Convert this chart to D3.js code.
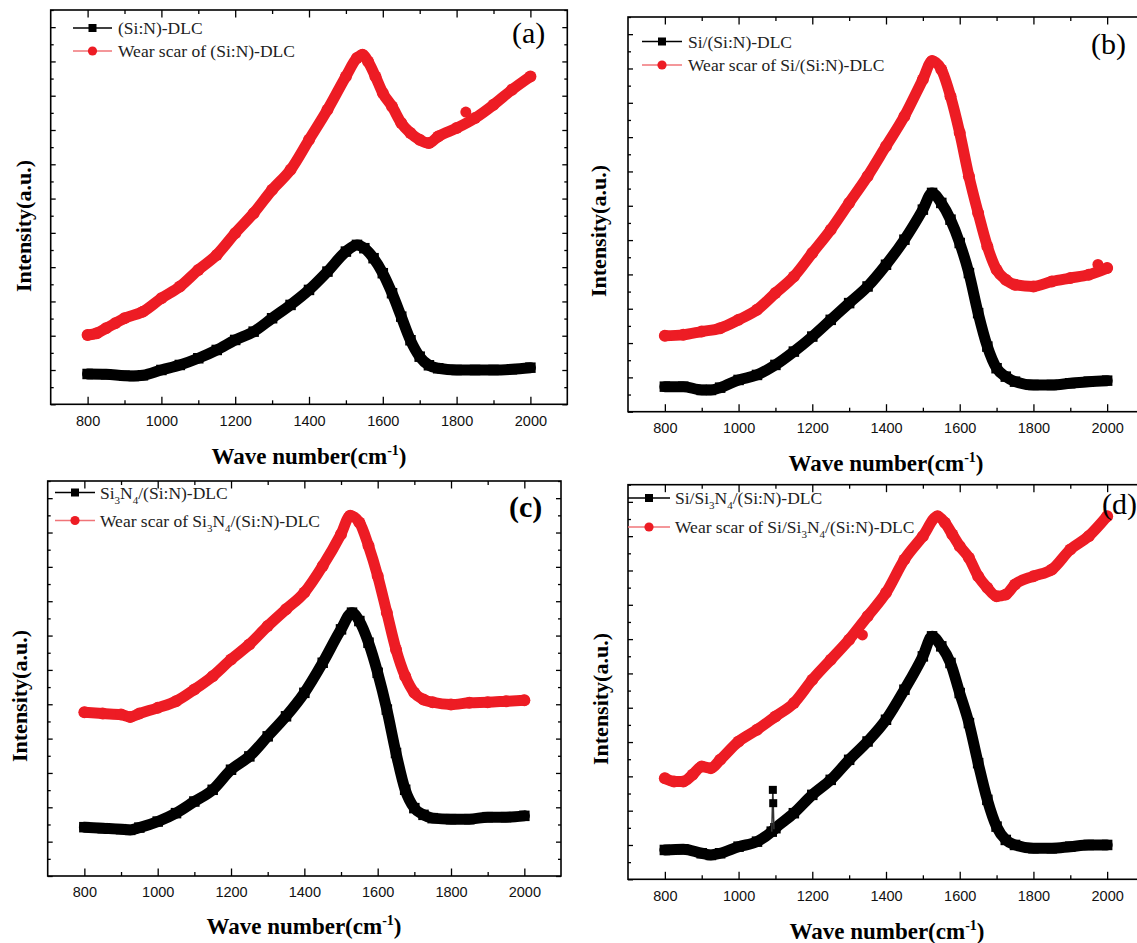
<!DOCTYPE html>
<html><head><meta charset="utf-8">
<script src="https://cdn.jsdelivr.net/npm/d3@7"></script>
<style>body{margin:0;background:#fff}svg{display:block}</style>
</head><body>
<svg id="c" width="1137" height="943"></svg>
<script>
// ---------- data (intensity in arbitrary units) ----------
const xMajor = [800, 1000, 1200, 1400, 1600, 1800, 2000];
const xMinor = [900, 1100, 1300, 1500, 1700, 1900];

const aBlack = [[800,30.3],[850,30],[900,28.6],[925,28.3],[950,29],[1000,34.3],[1050,39.3],[1100,46],[1150,54.3],[1200,64.3],[1250,72.6],[1300,86],[1350,99.3],[1400,114.3],[1450,132.6],[1500,152.6],[1530,159.3],[1550,156],[1575,146],[1600,131],[1625,111],[1650,87.6],[1675,64],[1700,47.6],[1725,39],[1750,36],[1800,34.3],[1850,34.3],[1900,34.3],[1950,35],[2000,36.6]];
const aRed = [[800,69.3],[825,71],[850,76],[875,81],[900,86],[950,92.6],[1000,106],[1050,117.6],[1100,134.3],[1150,149.3],[1200,171],[1250,191],[1300,214.3],[1350,234.3],[1400,264.3],[1450,294.3],[1500,327.6],[1530,346],[1545,349.3],[1560,342.6],[1580,327.6],[1600,311],[1625,297.6],[1650,281],[1675,271],[1700,264.3],[1725,261],[1750,267.6],[1800,276],[1850,286],[1900,299.3],[1950,314.3],[2000,327.6]];
const aRedOut = [[1825,292]];

const bBlack = [[800,25],[850,25],[900,21.7],[925,21.7],[950,24],[1000,31.7],[1050,36.7],[1100,46.7],[1150,60],[1200,75],[1250,91.7],[1300,108.4],[1350,125],[1400,146.7],[1450,171.7],[1500,201.7],[1525,218.4],[1550,208.4],[1575,191.7],[1600,168.4],[1625,138.4],[1650,98.4],[1675,65],[1700,43.4],[1725,35],[1750,30],[1800,26.7],[1850,26.7],[1900,28.4],[1950,30],[2000,31]];
const bRed = [[800,75.7],[850,76.7],[900,80],[950,83.4],[1000,91.7],[1050,101.7],[1100,118.4],[1150,135],[1200,158.4],[1250,181.7],[1300,208.4],[1350,235],[1400,265],[1450,295],[1500,331.7],[1525,350],[1550,341.7],[1575,315],[1600,278.4],[1625,235],[1650,198.4],[1675,165],[1700,141.7],[1725,131.7],[1750,126.7],[1800,125],[1850,130],[1900,133.4],[1950,136.7],[2000,143.4]];
const bRedOut = [[1975,147]];

const cBlack = [[800,48.7],[850,47.7],[900,46.7],[925,46],[950,48.3],[1000,54.3],[1050,62.7],[1100,74.3],[1150,86],[1200,106],[1250,119.3],[1300,139.3],[1350,159.3],[1400,182.7],[1450,212.7],[1500,246],[1530,262.7],[1550,254.3],[1575,232.7],[1600,202.7],[1625,166],[1650,122.7],[1675,86],[1700,67.7],[1725,61],[1750,57.7],[1800,56.7],[1850,56.7],[1900,58.7],[1950,58.7],[2000,60]];
const cRed = [[800,163.3],[850,162],[900,161],[925,158.7],[950,162],[1000,167.7],[1050,174.3],[1100,186],[1150,199.3],[1200,216],[1250,231],[1300,249.3],[1350,266],[1400,282.7],[1450,309.3],[1500,341],[1525,359.3],[1550,352.7],[1575,329.3],[1600,299.3],[1625,262.7],[1650,226],[1675,199.3],[1700,182.7],[1725,176],[1750,173.3],[1800,171],[1850,172.7],[1900,173.3],[1950,174.3],[2000,175.3]];

const dBlack = [[800,29.3],[850,30],[900,26],[925,24.3],[950,26],[1000,32.6],[1050,37.6],[1090,47.6],[1100,51],[1150,66],[1200,84.3],[1250,99.3],[1300,119.3],[1350,137.6],[1400,159.3],[1450,189.3],[1500,222.6],[1525,242.6],[1550,232.6],[1575,216],[1600,186],[1625,156],[1650,116],[1675,79.3],[1700,52.6],[1725,39.3],[1750,34.3],[1800,31],[1850,31],[1900,32.6],[1950,34.3],[2000,34.3]];
const dBlackSpike = [[1090,47.6],[1093,89.3],[1094,76],[1096,50]];
const dRed = [[800,101],[825,97.6],[850,97.6],[875,104.3],[900,112.6],[925,111],[950,119.3],[1000,137.6],[1050,149.3],[1100,162.6],[1150,176],[1200,199.3],[1250,219.3],[1300,239.3],[1350,262.6],[1400,286],[1450,319.3],[1500,342.6],[1540,362.6],[1560,356],[1580,344.3],[1600,332.6],[1625,321],[1650,302.6],[1675,291],[1700,282.6],[1725,284.3],[1750,294.3],[1800,302.6],[1850,309.3],[1900,329.3],[1950,342.6],[2000,362.6]];
const dRedOut = [[1336,244]];

const labA = [[["(Si:N)-DLC",0]], [["Wear scar of (Si:N)-DLC",0]]];
const labB = [[["Si/(Si:N)-DLC",0]], [["Wear scar of Si/(Si:N)-DLC",0]]];
const labC = [[["Si",0],["3",1],["N",0],["4",1],["/(Si:N)-DLC",0]], [["Wear scar of Si",0],["3",1],["N",0],["4",1],["/(Si:N)-DLC",0]]];
const labD = [[["Si/Si",0],["3",1],["N",0],["4",1],["/(Si:N)-DLC",0]], [["Wear scar of Si/Si",0],["3",1],["N",0],["4",1],["/(Si:N)-DLC",0]]];

// ---------- layout ----------
const RED = "#ed1c24";
const panels = [
  {tag:"(a)", tagBold:false, box:[50.7,567.3,10,404.3], black:aBlack, red:aRed, redOut:aRedOut, spike:null, lab:labA,
   leg:{x0:73, x1:112, tx:118, y1:28, y2:51}, tagPos:[512,43], yT:[24,226], xT:[309,464]},
  {tag:"(b)", tagBold:false, box:[628,1144,17,411.7], black:bBlack, red:bRed, redOut:bRedOut, spike:null, lab:labB,
   leg:{x0:642, x1:682, tx:688, y1:41.5, y2:65}, tagPos:[1091,54], yT:[599,231], xT:[886,471]},
  {tag:"(c)", tagBold:true, box:[47.7,561,481,876], black:cBlack, red:cRed, redOut:null, spike:null, lab:labC,
   leg:{x0:55, x1:95, tx:100, y1:492.5, y2:520.5}, tagPos:[509,517], yT:[20,696], xT:[304,934]},
  {tag:"(d)", tagBold:false, box:[628,1144,484.7,879.3], black:dBlack, red:dRed, redOut:dRedOut, spike:dBlackSpike, lab:labD,
   leg:{x0:628, x1:670, tx:675, y1:498, y2:527}, tagPos:[1102,514], yT:[601,699], xT:[887,939]}
];

const svg = d3.select("#c");
const serif = "'Liberation Serif','Times New Roman',serif";
const sans = "'Liberation Sans',Arial,sans-serif";

panels.forEach(p => {
  const [L, R, T, B] = p.box;
  const x = d3.scaleLinear().domain([700, 2100]).range([L, R]);
  const y = d3.scaleLinear().domain([0, 394]).range([B, T]);
  const g = svg.append("g");

  // y ticks (unlabelled)
  const yt = d3.range(0, 24).map(i => i * 394 / 23);
  const yMaj = yt.filter((d, i) => i % 2 === 0), yMin = yt.filter((d, i) => i % 2 === 1);
  const addAxis = (axis, tr) => {
    const a = g.append("g").attr("transform", tr).call(axis);
    a.select(".domain").remove();
    a.selectAll("line").attr("stroke", "#000").attr("stroke-width", 1.3);
    return a;
  };
  addAxis(d3.axisLeft(y).tickValues(yMaj).tickSize(-5).tickFormat(""), `translate(${L},0)`);
  addAxis(d3.axisLeft(y).tickValues(yMin).tickSize(-3).tickFormat(""), `translate(${L},0)`);
  addAxis(d3.axisRight(y).tickValues(yMaj).tickSize(-5).tickFormat(""), `translate(${R},0)`);
  addAxis(d3.axisRight(y).tickValues(yMin).tickSize(-3).tickFormat(""), `translate(${R},0)`);

  const xb = addAxis(d3.axisBottom(x).tickValues(xMajor).tickSize(-7.5).tickPadding(11).tickFormat(d3.format("d")), `translate(0,${B})`);
  xb.selectAll("text").attr("font-family", sans).attr("font-size", 14.5).attr("fill", "#111");
  addAxis(d3.axisBottom(x).tickValues(xMinor).tickSize(-4).tickFormat(""), `translate(0,${B})`);
  addAxis(d3.axisTop(x).tickValues(xMajor).tickSize(-7.5).tickFormat(""), `translate(0,${T})`);
  addAxis(d3.axisTop(x).tickValues(xMinor).tickSize(-4).tickFormat(""), `translate(0,${T})`);

  // frame
  g.append("rect").attr("x", L).attr("y", T).attr("width", R - L).attr("height", B - T)
    .attr("fill", "none").attr("stroke", "#000").attr("stroke-width", 1.6);

  const line = d3.line().x(d => x(d[0])).y(d => y(d[1])).curve(d3.curveMonotoneX);
  const straight = d3.line().x(d => x(d[0])).y(d => y(d[1]));

  // series: dense-marker band = thick path + markers
  const drawSeries = (data, color, shape) => {
    g.append("path").datum(data).attr("d", line).attr("fill", "none")
      .attr("stroke", color).attr("stroke-width", 11)
      .attr("stroke-linejoin", "round").attr("stroke-linecap", "round");
    if (shape === "sq") {
      g.append("g").selectAll("rect").data(data).join("rect")
        .attr("x", d => x(d[0]) - 5.25).attr("y", d => y(d[1]) - 5.25)
        .attr("width", 10.5).attr("height", 10.5).attr("fill", color);
    } else {
      g.append("g").selectAll("circle").data(data).join("circle")
        .attr("cx", d => x(d[0])).attr("cy", d => y(d[1])).attr("r", 6).attr("fill", color);
    }
  };
  drawSeries(p.red, RED, "ci");
  if (p.redOut) {
    g.append("g").selectAll("circle").data(p.redOut).join("circle")
      .attr("cx", d => x(d[0])).attr("cy", d => y(d[1])).attr("r", 5.5).attr("fill", RED);
  }
  drawSeries(p.black, "#000", "sq");
  if (p.spike) {
    g.append("path").datum(p.spike).attr("d", straight).attr("fill", "none")
      .attr("stroke", "#333").attr("stroke-width", 1.5);
    g.append("g").selectAll("rect").data(p.spike.slice(1, 3)).join("rect")
      .attr("x", d => x(d[0]) - 4).attr("y", d => y(d[1]) - 4)
      .attr("width", 8).attr("height", 8).attr("fill", "#000");
  }

  // legend
  const lg = p.leg;
  const cx = (lg.x0 + lg.x1) / 2;
  const rows = [
    {y: lg.y1, col: "#000", lcol: "#000", shape: "sq", lab: p.lab[0]},
    {y: lg.y2, col: RED, lcol: "#f07478", shape: "ci", lab: p.lab[1]}
  ];
  rows.forEach(r => {
    g.append("line").attr("x1", lg.x0).attr("x2", lg.x1).attr("y1", r.y).attr("y2", r.y)
      .attr("stroke", r.lcol).attr("stroke-width", 1.3);
    if (r.shape === "sq") {
      g.append("rect").attr("x", cx - 4).attr("y", r.y - 4).attr("width", 8).attr("height", 8).attr("fill", r.col);
    } else {
      g.append("circle").attr("cx", cx).attr("cy", r.y).attr("r", 4.6).attr("fill", r.col);
    }
    const t = g.append("text").attr("x", lg.tx).attr("y", r.y + 6)
      .attr("font-family", serif).attr("font-size", 17.5).attr("fill", "#222");
    r.lab.forEach(([s, sub], i) => {
      const prevSub = i > 0 ? r.lab[i - 1][1] : 0;
      let dy = 0;
      if (sub && !prevSub) dy = 5;
      if (!sub && prevSub) dy = -5;
      t.append("tspan").attr("dy", dy).attr("font-size", sub ? 11 : 17.5).text(s);
    });
  });

  // panel tag
  svg.append("text").attr("x", p.tagPos[0]).attr("y", p.tagPos[1])
    .attr("font-family", serif).attr("font-size", 30).attr("font-weight", p.tagBold ? "bold" : "normal")
    .attr("fill", "#000").text(p.tag);

  // axis titles
  svg.append("text").attr("transform", `translate(${p.yT[0] + 7},${p.yT[1]}) rotate(-90)`)
    .attr("text-anchor", "middle").attr("font-family", serif).attr("font-weight", "bold")
    .attr("font-size", 22).attr("fill", "#000").text("Intensity(a.u.)");
  const xt = svg.append("text").attr("x", p.xT[0]).attr("y", p.xT[1]).attr("text-anchor", "middle")
    .attr("font-family", serif).attr("font-weight", "bold").attr("font-size", 23).attr("fill", "#000");
  xt.append("tspan").text("Wave number(cm");
  xt.append("tspan").attr("dy", -9).attr("font-size", 14).text("-1");
  xt.append("tspan").attr("dy", 9).text(")");
});
</script>
</body></html>
